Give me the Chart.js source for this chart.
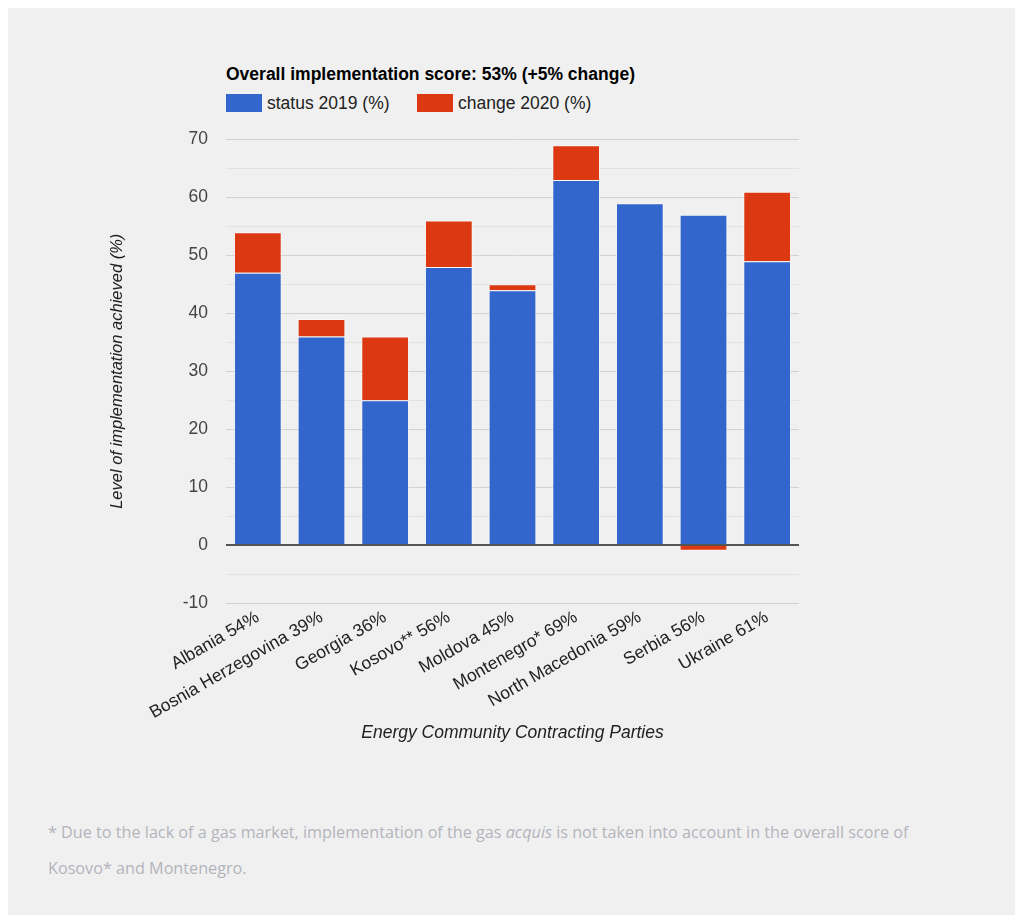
<!DOCTYPE html>
<html>
<head>
<meta charset="utf-8">
<script src="https://cdn.jsdelivr.net/npm/chart.js@4.4.1/dist/chart.umd.min.js"></script>
<style>
  html, body { margin: 0; padding: 0; background: #fff; }
  #panel { position: absolute; left: 8px; top: 8px; width: 1007px; height: 907px; background: #f0f0f0; }
  #title { position: absolute; left: 226px; top: 64px; font: bold 17.5px Arial, "Liberation Sans", sans-serif; color: #000; white-space: nowrap; }
  #legend { position: absolute; left: 226px; top: 94px; font: 17.5px Arial, "Liberation Sans", sans-serif; color: #222; white-space: nowrap; }
  .item { position: absolute; top: 0; height: 18px; line-height: 18px; }
  .swatch { position: absolute; left: 0; top: 0; width: 36px; height: 18px; }
  .label { position: absolute; left: 41px; top: 0; }
  #chart-wrap { position: absolute; left: 104px; top: 111px; width: 716px; height: 637px; }
  #note { position: absolute; left: 48px; top: 814px; font: 16.2px "Open Sans", sans-serif; color: #b4b4bc; line-height: 36px; white-space: nowrap; }
</style>
</head>
<body>
<div id="panel"></div>
<div id="title">Overall implementation score: 53% (+5% change)</div>
<div id="legend"></div>
<div id="chart-wrap"><canvas id="chart"></canvas></div>
<div id="note">* Due to the lack of a gas market, implementation of the gas <em>acquis</em> is not taken into account in the overall score of<br>Kosovo* and Montenegro.</div>
<script>
// Chart data
const categories = ['Albania 54%', 'Bosnia Herzegovina 39%', 'Georgia 36%', 'Kosovo** 56%', 'Moldova 45%',
    'Montenegro* 69%', 'North Macedonia 59%', 'Serbia 56%', 'Ukraine 61%'];
const seriesNames = ['status 2019 (%)', 'change 2020 (%)'];
const status2019 = [47, 36, 25, 48, 44, 63, 59, 57, 49];
const change2020 = [7, 3, 11, 8, 1, 6, 0, -1, 12];
const seriesColors = ['#3366cc', '#dc3912'];

// HTML legend
const legend = document.getElementById('legend');
const legendOffsets = [0, 191];
seriesNames.forEach((name, i) => {
    const item = document.createElement('div');
    item.className = 'item';
    item.style.left = legendOffsets[i] + 'px';
    item.innerHTML = `<span class="swatch" style="background:${seriesColors[i]}"></span><span class="label">${name}</span>`;
    legend.appendChild(item);
});

const font = { family: 'Arial, "Liberation Sans", sans-serif', size: 17.5 };

new Chart(document.getElementById('chart'), {
    type: 'bar',
    data: {
        labels: categories,
        datasets: [
            {
                label: seriesNames[0],
                data: status2019,
                backgroundColor: seriesColors[0],
                borderColor: 'rgba(255,255,255,0.5)',
                borderWidth: 1,
                barPercentage: 0.75,
                categoryPercentage: 1
            },
            {
                label: seriesNames[1],
                data: change2020,
                backgroundColor: seriesColors[1],
                borderColor: 'rgba(255,255,255,0.5)',
                borderWidth: 1,
                barPercentage: 0.75,
                categoryPercentage: 1
            }
        ]
    },
    options: {
        responsive: true,
        maintainAspectRatio: false,
        animation: false,
        layout: { padding: { top: 9, right: 21, left: 0, bottom: 0 } },
        plugins: {
            legend: { display: false },
            tooltip: { enabled: false }
        },
        scales: {
            x: {
                stacked: true,
                grid: { display: false },
                border: { display: false },
                ticks: {
                    color: '#222',
                    font: font,
                    minRotation: 30,
                    maxRotation: 30,
                    padding: -4,
                    autoSkip: false
                },
                title: {
                    display: true,
                    text: 'Energy Community Contracting Parties',
                    color: '#222',
                    font: { ...font, style: 'italic' }
                },
                afterFit: (scale) => { scale.height = 145; }
            },
            y: {
                stacked: true,
                min: -10,
                max: 70,
                border: { display: false },
                grid: {
                    drawTicks: false,
                    color: (ctx) => {
                        const v = ctx.tick.value;
                        if (v === 0) return '#555';
                        return v % 10 === 0 ? '#d2d2d2' : '#e2e2e2';
                    },
                    lineWidth: (ctx) => ctx.tick.value === 0 ? 2 : 1
                },
                ticks: {
                    stepSize: 5,
                    color: '#444',
                    font: font,
                    padding: 18,
                    callback: (value) => value % 10 === 0 ? value : ''
                },
                title: {
                    display: true,
                    text: 'Level of implementation achieved (%)',
                    color: '#222',
                    font: { ...font, size: 16.5, style: 'italic' }
                },
                afterFit: (scale) => { scale.width = 122; }
            }
        }
    }
});
</script>
</body>
</html>
